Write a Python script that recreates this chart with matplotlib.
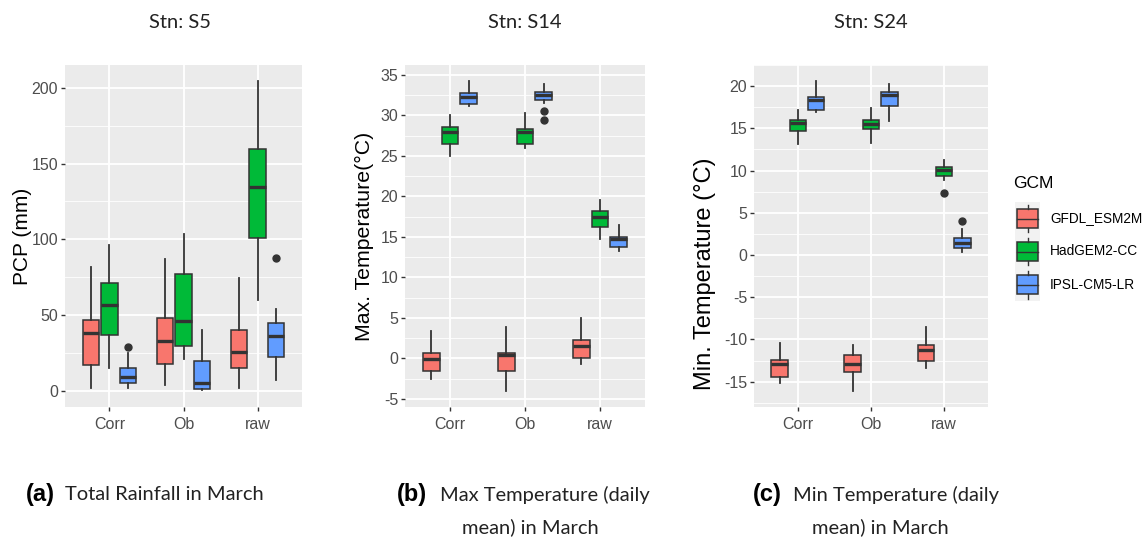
import numpy as np
import matplotlib
matplotlib.use("Agg")
import matplotlib.pyplot as plt
from matplotlib.patches import Patch, Rectangle
from matplotlib.lines import Line2D
from matplotlib.legend_handler import HandlerBase
from matplotlib.ticker import MultipleLocator

plt.rcParams["axes.unicode_minus"] = False

cats = ["Corr", "Ob", "raw"]
models = ["GFDL_ESM2M", "HadGEM2-CC", "IPSL-CM5-LR"]
colors = ["#F8766D", "#00BA38", "#619CFF"]

# [low whisker, Q1, median, Q3, high whisker] for Corr, Ob, raw
pcp_gfdl = [[2, 17, 38, 47, 82], [4, 18, 33, 48, 87], [2, 15, 26, 40.5, 74.6]]
pcp_had = [[15, 37, 57, 71, 96], [21, 30, 46.5, 77, 103.5], [60, 101, 134.6, 159.4, 204.6]]
pcp_ipsl = [[2, 5.5, 9, 15, 25], [0.5, 1.5, 5, 20, 40], [7, 22.4, 36.4, 45, 54]]
pcp_ipsl_out = [[29], [], [87.7]]

tmax_gfdl = [[-2.6, -1.6, -0.07, 0.7, 3.4], [-4, -1.5, 0.4, 0.7, 3.9], [-0.7, 0.1, 1.5, 2.3, 5.0]]
tmax_had = [[25, 26.5, 27.9, 28.5, 30], [26, 26.5, 27.9, 28.3, 30.3], [14.7, 16.2, 17.5, 18.2, 19.5]]
tmax_ipsl = [[31.2, 31.4, 32.2, 32.7, 34.2], [31.5, 31.9, 32.45, 32.9, 33.8], [13.3, 13.7, 14.7, 15.0, 16.5]]
tmax_ipsl_out = [[], [30.5, 29.4], []]

tmin_gfdl = [[-15.2, -14.5, -12.9, -12.4, -10.4], [-16.1, -13.8, -12.9, -11.9, -10.7], [-13.4, -12.6, -11.3, -10.6, -8.5]]
tmin_had = [[13.1, 14.7, 15.6, 16, 17.2], [13.3, 14.9, 15.5, 16, 17.4], [8.9, 9.3, 10.1, 10.4, 11.2]]
tmin_had_out = [[], [], [7.4]]
tmin_ipsl = [[16.9, 17.2, 18.3, 18.7, 20.6], [15.9, 17.6, 18.9, 19.3, 20.2], [0.3, 0.8, 1.45, 2.0, 3.1]]
tmin_ipsl_out = [[], [], [4.0]]

no_out = [[], [], []]

DARK = "#333333"
TXT = "Lato"
SANS = ["Liberation Sans", "DejaVu Sans"]


def draw_panel(ax, summaries, outliers, ylim, step, ylabel, lab_x, lab_y, lab_size):
    offsets = [-0.25, 0, 0.25]
    for k, (summ, outl) in enumerate(zip(summaries, outliers)):
        stats = []
        for i, cat in enumerate(cats):
            lo, q1, med, q3, hi = summ[i]
            stats.append(dict(whislo=lo, q1=q1, med=med, q3=q3, whishi=hi,
                              fliers=outl[i], label=cat))
        ax.bxp(stats, positions=np.arange(1, 4) + offsets[k], widths=0.225,
               patch_artist=True, showcaps=False, manage_ticks=False,
               boxprops=dict(facecolor=colors[k], edgecolor=DARK, linewidth=1.1),
               medianprops=dict(color=DARK, linewidth=2.4),
               whiskerprops=dict(color=DARK, linewidth=1.3),
               flierprops=dict(marker="o", markerfacecolor=DARK, markeredgecolor=DARK,
                               markersize=5))
    ax.set_xlim(0.4, 3.6)
    ax.set_ylim(*ylim)
    ax.set_xticks([1, 2, 3])
    ax.set_xticklabels(cats)
    ax.yaxis.set_major_locator(MultipleLocator(step))
    ax.yaxis.set_minor_locator(MultipleLocator(step / 2))
    ax.set_facecolor("#EBEBEB")
    for s in ax.spines.values():
        s.set_visible(False)
    ax.set_axisbelow(True)
    ax.grid(which="major", color="white", linewidth=1.3)
    ax.grid(which="minor", axis="y", color="white", linewidth=0.6)
    ax.tick_params(which="major", color=DARK, length=3, width=1, pad=2,
                   labelcolor="#4D4D4D", labelsize=11.5)
    ax.tick_params(axis="x", pad=4)
    ax.tick_params(which="minor", length=0)
    for lab in ax.get_xticklabels() + ax.get_yticklabels():
        lab.set_family(SANS)
    ax.set_ylabel(ylabel, family=SANS, fontsize=lab_size, color="black")
    ax.yaxis.set_label_coords(lab_x, lab_y)


class BoxHandler(HandlerBase):
    def create_artists(self, legend, orig_handle, xdescent, ydescent, width, height,
                       fontsize, trans):
        x0, y0 = -xdescent, -ydescent
        bg = Rectangle((x0, y0), width, height, facecolor="#F2F2F2", edgecolor="none",
                       transform=trans)
        box = Rectangle((x0 + 0.08 * width, y0 + 0.22 * height), 0.84 * width, 0.56 * height,
                        facecolor=orig_handle.get_facecolor(), edgecolor=DARK,
                        linewidth=1.1, transform=trans)
        cx = x0 + width / 2
        med = Line2D([x0 + 0.08 * width, x0 + 0.92 * width], [y0 + height / 2] * 2,
                     color=DARK, linewidth=1.0, transform=trans)
        w1 = Line2D([cx, cx], [y0 + 0.08 * height, y0 + 0.22 * height], color=DARK,
                    linewidth=1.0, transform=trans)
        w2 = Line2D([cx, cx], [y0 + 0.78 * height, y0 + 0.92 * height], color=DARK,
                    linewidth=1.0, transform=trans)
        return [bg, box, med, w1, w2]


W, H = 1148, 541
fig = plt.figure(figsize=(W / 100, H / 100), dpi=100)

ax1 = fig.add_axes([65 / W, 1 - 407 / H, 237 / W, 342 / H])
ax2 = fig.add_axes([405 / W, 1 - 407 / H, 240 / W, 342 / H])
ax3 = fig.add_axes([754 / W, 1 - 407 / H, 234 / W, 342 / H])

draw_panel(ax1, [pcp_gfdl, pcp_had, pcp_ipsl], [no_out, no_out, pcp_ipsl_out],
           (-10.5, 215), 50, "PCP (mm)", -0.139, 0.5, 15)
draw_panel(ax2, [tmax_gfdl, tmax_had, tmax_ipsl], [no_out, no_out, tmax_ipsl_out],
           (-6, 36.2), 5, "Max. Temperature(°C)", -0.129, 0.5, 15.3)
draw_panel(ax3, [tmin_gfdl, tmin_had, tmin_ipsl], [no_out, tmin_had_out, tmin_ipsl_out],
           (-18, 22.5), 5, "Min. Temperature (°C)", -0.162, 0.39, 17)

# station titles
for ax, t in zip([ax1, ax2, ax3], ["Stn: S5", "Stn: S14", "Stn: S24"]):
    pos = ax.get_position()
    fig.text(pos.x0 + pos.width / 2 - (3 / W if ax is ax1 else 0), 1 - 22 / H, t,
             ha="center", va="center", family=TXT, fontsize=14.5, color="#222222")

# captions
def caption(xb, xt, y, tag, text):
    fig.text(xb / W, 1 - y / H, tag, ha="left", va="center", family=SANS,
             fontweight="bold", fontsize=17)
    fig.text(xt / W, 1 - y / H, text, ha="left", va="center", family=TXT,
             fontsize=14.5, color="#222222")

caption(26, 65, 495, "(a)", "Total Rainfall in March")
caption(397, 440, 495, "(b)", "Max Temperature (daily")
fig.text(462 / W, 1 - 527 / H, "mean) in March", ha="left", va="center", family=TXT,
         fontsize=14.5, color="#222222")
caption(753, 793, 495, "(c)", "Min Temperature (daily")
fig.text(812 / W, 1 - 527 / H, "mean) in March", ha="left", va="center", family=TXT,
         fontsize=14.5, color="#222222")

# legend
fig.text(1013 / W, 1 - 183 / H, "GCM", ha="left", va="center", family=SANS,
         fontsize=12.5)
handles = [Patch(facecolor=c, label=m) for c, m in zip(colors, models)]
fig.legend(handles=handles, labels=models, loc="upper left",
           bbox_to_anchor=(1015 / W, 1 - 202 / H), frameon=False, borderpad=0,
           handler_map={Patch: BoxHandler()}, handlelength=1.84, handleheight=3.36,
           labelspacing=0, handletextpad=0.74, borderaxespad=0,
           prop=dict(family=SANS, size=9.8))

fig.savefig("out.png", dpi=100)
